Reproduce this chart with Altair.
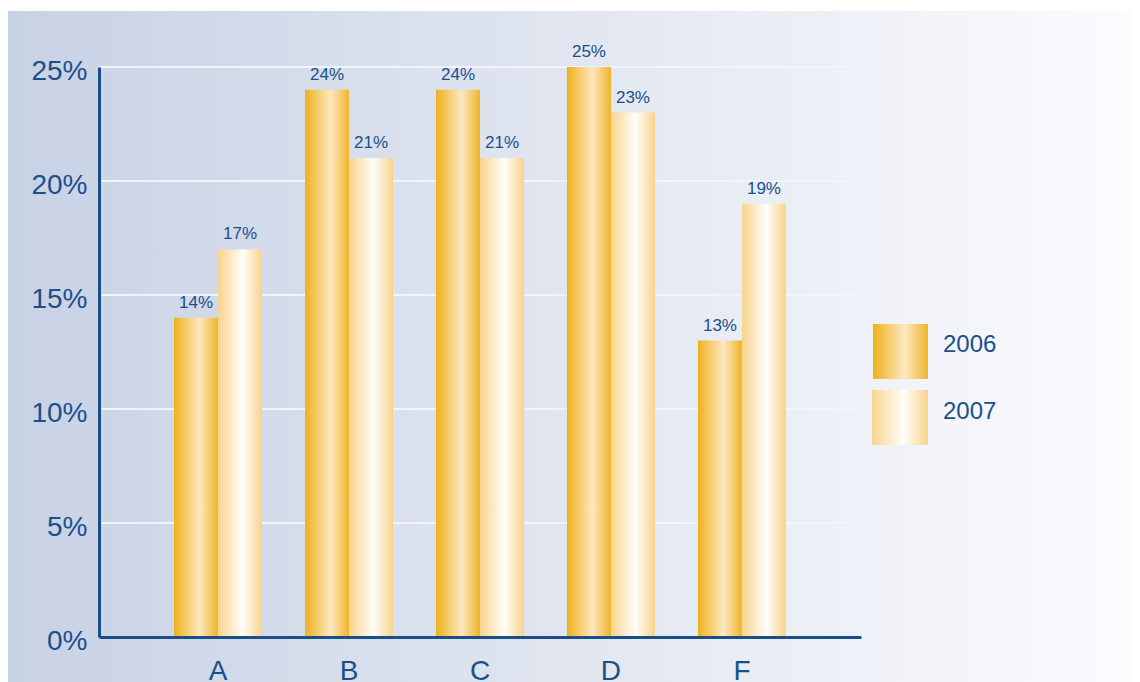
import altair as alt
import pandas as pd

categories = ["A", "B", "C", "D", "F"]
series = ["2006", "2007"]
values_2006 = [14, 24, 24, 25, 13]
values_2007 = [17, 21, 21, 23, 19]
y_ticks = [0, 5, 10, 15, 20, 25]

rows = []
for c, v in zip(categories, values_2006):
    rows.append({"category": c, "series": "2006", "value": v})
for c, v in zip(categories, values_2007):
    rows.append({"category": c, "series": "2007", "value": v})
df = pd.DataFrame(rows)
legend_df = pd.DataFrame({"series": series})
grid_df = pd.DataFrame({"value": y_ticks})
bg_df = pd.DataFrame({"k": [0]})

TEXT = "#1b4f8c"
AXIS = "#1a4e87"
FONT = "Liberation Sans"


def hgrad(stops):
    return alt.Gradient(
        gradient="linear", x1=0, x2=1, y1=0, y2=0,
        stops=[alt.GradientStop(offset=o, color=c) for o, c in stops],
    )


grad_2006 = hgrad([(0, "#efb11c"), (0.58, "#fce8c1"), (1, "#f0b42a")])
grad_2007 = hgrad([(0, "#f8d38c"), (0.56, "#fffefa"), (1, "#f8d38c")])
grad_bg = hgrad([(0, "#c8d2e5"), (0.5, "#e1e6f0"), (1, "#fbfcfe")])

W, H = 762, 570

x_enc = alt.X(
    "category:N",
    sort=categories,
    scale=alt.Scale(domain=categories, paddingInner=0.328, paddingOuter=0.573),
    axis=alt.Axis(
        title=None, labelAngle=0, ticks=False, domainColor=AXIS, domainWidth=3,
        labelFontSize=28, labelColor=TEXT, labelFont=FONT, labelPadding=20,
        labelBaseline="top", zindex=2, grid=False,
    ),
)
xoff_enc = alt.XOffset(
    "series:N", scale=alt.Scale(domain=series, paddingInner=0, paddingOuter=0)
)
y_scale = alt.Scale(domain=[0, 25], nice=False)
y_enc = alt.Y(
    "value:Q",
    scale=y_scale,
    axis=alt.Axis(
        title=None, values=y_ticks, labelExpr="datum.value + '%'", ticks=False,
        domainColor=AXIS, domainWidth=3, grid=False,
        labelFontSize=28, labelColor=TEXT, labelFont=FONT, labelPadding=12,
        labelOffset=4, zindex=2,
    ),
)

background = alt.Chart(bg_df).mark_rect(fill=grad_bg).encode(
    x=alt.value(-92), x2=alt.value(1041), y=alt.value(-56), y2=alt.value(615)
)

grid = alt.Chart(grid_df).mark_rule(color="#f1f4fa", strokeWidth=2).encode(
    y=alt.Y("value:Q", scale=y_scale)
)

bars_2006 = alt.Chart(df).transform_filter("datum.series == '2006'").mark_bar(
    fill=grad_2006
).encode(x=x_enc, xOffset=xoff_enc, y=y_enc)

bars_2007 = alt.Chart(df).transform_filter("datum.series == '2007'").mark_bar(
    fill=grad_2007
).encode(x=x_enc, xOffset=xoff_enc, y=y_enc)

labels = alt.Chart(df).transform_calculate(lab="datum.value + '%'").mark_text(
    baseline="alphabetic", dy=-10, fontSize=17, color=TEXT, font=FONT
).encode(x=x_enc, xOffset=xoff_enc, y=y_enc, text="lab:N")

leg_2006 = alt.Chart(legend_df).transform_filter("datum.series == '2006'").mark_rect(
    fill=grad_2006
).encode(x=alt.value(774), x2=alt.value(829), y=alt.value(257), y2=alt.value(312))

leg_2007 = alt.Chart(legend_df).transform_filter("datum.series == '2007'").mark_rect(
    fill=grad_2007
).encode(x=alt.value(773), x2=alt.value(829), y=alt.value(323), y2=alt.value(378))

leg_text_2006 = alt.Chart(legend_df).transform_filter("datum.series == '2006'").mark_text(
    align="left", baseline="middle", fontSize=24, color=TEXT, font=FONT
).encode(x=alt.value(844), y=alt.value(278), text="series:N")

leg_text_2007 = alt.Chart(legend_df).transform_filter("datum.series == '2007'").mark_text(
    align="left", baseline="middle", fontSize=24, color=TEXT, font=FONT
).encode(x=alt.value(844), y=alt.value(345), text="series:N")

chart = alt.layer(
    background, grid, bars_2006, bars_2007, labels,
    leg_2006, leg_2007, leg_text_2006, leg_text_2007,
).properties(
    width=W, height=H,
    autosize=alt.AutoSizeParams(type="none"),
    padding={"left": 91, "top": 59, "right": 271, "bottom": 45},
    background="white",
).configure_view(stroke=None)

chart.save("out.html", embed_options={"renderer": "svg", "actions": False})
